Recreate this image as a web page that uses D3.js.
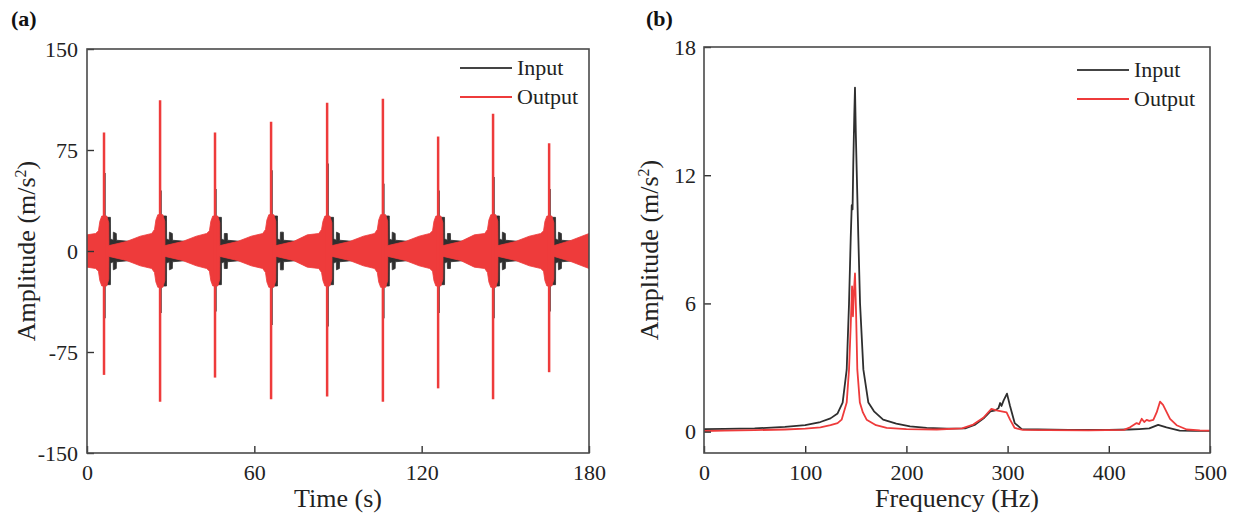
<!DOCTYPE html>
<html>
<head>
  <meta charset="utf-8">
  <title>Input / Output acceleration - time and frequency domain</title>
  <style>
    html, body { margin: 0; background: #fff; }
    svg, svg text { font-family: "Liberation Serif", "Times New Roman", serif; }
    .tick text { font-size: 22px; fill: #222; }
    .axis-title { font-size: 26px; fill: #222; text-anchor: middle; }
    .legend text { font-size: 22px; fill: #222; }
    .panel-tag { font-size: 22px; font-weight: bold; fill: #111; }
  </style>
</head>
<body>
  <svg id="chart" width="1237" height="517"></svg>

  <script src="https://d3js.org/d3.v7.min.js"></script>
  <script>
    // ---- panel (a): time domain ----
    const timeTicks = [0, 60, 120, 180];
    const ampTicksA = [-150, -75, 0, 75, 150];

    // impact spikes (s) and their peak values (m/s^2)
    const spikeTimes = [6.1, 26.2, 45.9, 66.0, 86.1, 106.1, 125.9, 145.6, 165.7];
    const outSpikeHi = [88, 112, 88, 96, 110, 113, 85, 102, 80];
    const outSpikeLo = [-92, -112, -94, -110, -108, -112, -102, -110, -90];
    const inSpikeHi = [58, 45, 46, 60, 65, 50, 45, 55, 46];
    const inSpikeLo = [-50, -46, -45, -55, -56, -50, -46, -50, -45];

    // envelope of the fast oscillation, +/- amplitude
    const outEnvT = [
      0, 3.1, 4.1, 4.6, 5.3, 7.1, 7.8, 7.85, 14.1, 19.1,
      23.2, 24.2, 24.7, 25.4, 27.2, 27.9, 27.95, 34.2, 39.2,
      42.9, 43.9, 44.4, 45.1, 46.9, 47.6, 47.65, 53.9, 58.9,
      63.0, 64.0, 64.5, 65.2, 67.0, 67.7, 67.75, 74.0, 79.0,
      83.1, 84.1, 84.6, 85.3, 87.1, 87.8, 87.85, 94.1, 99.1,
      103.1, 104.1, 104.6, 105.3, 107.1, 107.8, 107.85, 114.1, 119.1,
      122.9, 123.9, 124.4, 125.1, 126.9, 127.6, 127.65, 133.9, 138.9,
      142.6, 143.6, 144.1, 144.8, 146.6, 147.3, 147.35, 153.6, 158.6,
      162.7, 163.7, 164.2, 164.9, 166.7, 167.4, 167.45, 173.7, 180
    ];
    const outEnvA = [
      12, 13, 15, 22, 26, 26, 21, 4, 7, 11,
      13, 16, 23, 27, 27, 22, 4, 7, 11,
      13, 15, 22, 26, 26, 21, 4, 7, 11,
      13, 16, 23, 27, 27, 22, 4, 7, 12,
      13, 16, 22, 26, 26, 21, 4, 7, 11,
      13, 16, 23, 27, 27, 22, 4, 7, 11,
      13, 15, 22, 26, 26, 21, 4, 7, 12,
      13, 16, 23, 27, 27, 22, 4, 7, 11,
      13, 15, 22, 26, 26, 21, 4, 8, 13
    ];
    const inEnvT = [
      0, 6.6, 6.65, 8.4, 8.45, 9.4, 9.45, 10.5, 10.55, 16.1,
      26.7, 26.75, 28.5, 28.55, 29.5, 29.55, 30.6, 30.65, 36.2,
      46.4, 46.45, 48.2, 48.25, 49.2, 49.25, 50.3, 50.35, 55.9,
      66.5, 66.55, 68.3, 68.35, 69.3, 69.35, 70.4, 70.45, 76.0,
      86.6, 86.65, 88.4, 88.45, 89.4, 89.45, 90.5, 90.55, 96.1,
      106.6, 106.65, 108.4, 108.45, 109.4, 109.45, 110.5, 110.55, 116.1,
      126.4, 126.45, 128.2, 128.25, 129.2, 129.25, 130.3, 130.35, 135.9,
      146.1, 146.15, 147.9, 147.95, 148.9, 148.95, 150.0, 150.05, 155.6,
      166.2, 166.25, 168.0, 168.05, 169.0, 169.05, 170.1, 170.15, 175.7, 180
    ];
    const inEnvA = [
      6, 6, 25, 25, 9, 8, 14, 13, 8, 7,
      6, 26, 26, 9, 8, 14, 13, 8, 7,
      6, 25, 25, 9, 8, 13, 13, 8, 7,
      6, 26, 26, 9, 8, 14, 14, 8, 7,
      6, 25, 25, 9, 8, 14, 13, 8, 7,
      6, 26, 26, 9, 8, 14, 13, 8, 7,
      6, 25, 25, 9, 8, 13, 13, 8, 7,
      6, 26, 26, 9, 8, 14, 13, 8, 7,
      6, 25, 25, 9, 8, 14, 13, 8, 7, 6
    ];

    // ---- panel (b): frequency domain ----
    const freqTicks = [0, 100, 200, 300, 400, 500];
    const ampTicksB = [0, 6, 12, 18];

    const inFreq = [0, 20, 50, 80, 100, 115, 125, 132, 137, 141, 143.3, 145, 146, 146.8, 147.5, 148.5,
      149.2, 150, 150.9, 152.5, 154.2, 157.5, 162.4, 168, 177, 190, 203.6, 220, 240, 258, 268, 277, 283,
      288, 291, 292.6, 294, 296, 299.4, 302.4, 307, 314, 330, 360, 400, 420, 430, 440, 448.8, 457,
      470, 485, 500];
    const inAmp = [0.12, 0.13, 0.15, 0.22, 0.3, 0.45, 0.62, 0.85, 1.36, 2.9, 6.0, 9.1, 10.6, 10.4, 12.5, 14.8,
      16.1, 14.0, 12.2, 9.1, 6.0, 2.9, 1.36, 0.95, 0.56, 0.38, 0.25, 0.18, 0.14, 0.15, 0.33, 0.65, 0.95,
      1.0, 1.1, 1.34, 1.2, 1.45, 1.78, 1.2, 0.4, 0.12, 0.1, 0.08, 0.08, 0.1, 0.12, 0.15, 0.32, 0.2,
      0.05, 0.04, 0.04];

    const outFreq = [0, 20, 50, 80, 100, 115, 125, 132, 136, 141, 143.3, 145, 146.3, 147.2, 148.1, 149.2,
      150.3, 151.5, 154, 157, 160.7, 170, 180.5, 200, 230, 255, 266, 276, 284, 289, 294, 299, 302.4,
      307, 315, 340, 380, 415, 421, 427.5, 430, 432.5, 435, 437.4, 440, 444, 447.3, 450.6, 453.6,
      460.5, 467, 477, 490, 500];
    const outAmp = [0.03, 0.05, 0.07, 0.1, 0.14, 0.2, 0.3, 0.4, 0.56, 1.36, 2.9, 5.0, 6.8, 5.4, 6.5, 7.4,
      5.5, 2.9, 1.36, 0.9, 0.56, 0.3, 0.18, 0.12, 0.1, 0.15, 0.33, 0.65, 1.06, 1.0, 0.95, 0.9, 0.56,
      0.17, 0.08, 0.07, 0.06, 0.08, 0.2, 0.4, 0.35, 0.6, 0.45, 0.55, 0.5, 0.55, 0.9, 1.4, 1.25,
      0.6, 0.3, 0.1, 0.06, 0.05];

    const seriesNames = ["Input", "Output"];
    const colInput = "#2f2f2f";
    const colOutput = "#ee3b3b";
    const serif = '"Liberation Serif", "Times New Roman", serif';

    const svg = d3.select("#chart");

    function frame(g, w, h) {
      g.append("rect")
        .attr("width", w).attr("height", h)
        .attr("fill", "none").attr("stroke", "#4a4a4a").attr("stroke-width", 1.6);
    }

    function styleAxis(sel) {
      sel.attr("font-family", serif).attr("font-size", 22);
      sel.select(".domain").remove();
      sel.selectAll(".tick line").attr("stroke", "#333").attr("stroke-width", 1.4);
      sel.selectAll(".tick text").style("font-family", serif).style("font-size", "22px").attr("fill", "#222");
    }

    function legend(g, x0, y0) {
      const lg = g.append("g").attr("class", "legend").attr("transform", `translate(${x0},${y0})`);
      seriesNames.forEach((name, i) => {
        lg.append("line")
          .attr("x1", 0).attr("x2", 52).attr("y1", i * 29).attr("y2", i * 29)
          .attr("stroke", i === 0 ? "#444" : colOutput).attr("stroke-width", 2);
        lg.append("text")
          .attr("x", 57).attr("y", i * 29 + 7).text(name);
      });
    }

    const plainFmt = d => String(d);

    // ================= panel (a) =================
    const A = { left: 87, top: 49, width: 502, height: 404 };
    const ga = svg.append("g").attr("transform", `translate(${A.left},${A.top})`);

    const xA = d3.scaleLinear().domain([0, 180]).range([0, A.width]);
    const yA = d3.scaleLinear().domain([-150, 150]).range([A.height, 0]);

    ga.append("clipPath").attr("id", "clipA")
      .append("rect").attr("width", A.width).attr("height", A.height);
    const plotA = ga.append("g").attr("clip-path", "url(#clipA)");

    const envArea = d3.area()
      .x(d => xA(d.t))
      .y0(d => yA(-d.a))
      .y1(d => yA(d.a));

    const inEnv = inEnvT.map((t, i) => ({ t, a: inEnvA[i] }));
    const outEnv = outEnvT.map((t, i) => ({ t, a: outEnvA[i] }));

    plotA.append("path").datum(inEnv)
      .attr("d", envArea).attr("fill", colInput)
      .attr("stroke", colInput).attr("stroke-width", 0.8);

    plotA.selectAll(".in-spike")
      .data(spikeTimes)
      .enter().append("line")
      .attr("class", "in-spike")
      .attr("x1", d => xA(d + 0.3)).attr("x2", d => xA(d + 0.3))
      .attr("y1", (d, i) => yA(inSpikeHi[i])).attr("y2", (d, i) => yA(inSpikeLo[i]))
      .attr("stroke", colInput).attr("stroke-width", 1.6);

    plotA.append("path").datum(outEnv)
      .attr("d", envArea).attr("fill", colOutput)
      .attr("stroke", colOutput).attr("stroke-width", 0.8);

    plotA.selectAll(".out-spike")
      .data(spikeTimes)
      .enter().append("line")
      .attr("class", "out-spike")
      .attr("x1", d => xA(d)).attr("x2", d => xA(d))
      .attr("y1", (d, i) => yA(outSpikeHi[i])).attr("y2", (d, i) => yA(outSpikeLo[i]))
      .attr("stroke", colOutput).attr("stroke-width", 2.5);

    ga.append("g")
      .attr("transform", `translate(0,${A.height})`)
      .call(d3.axisBottom(xA).tickValues(timeTicks).tickFormat(plainFmt).tickSize(-7).tickPadding(11))
      .call(styleAxis);
    ga.append("g")
      .call(d3.axisLeft(yA).tickValues(ampTicksA).tickFormat(plainFmt).tickSize(-7).tickPadding(9))
      .call(styleAxis);
    frame(ga, A.width, A.height);
    legend(ga, 373, 19);

    ga.append("text").attr("class", "axis-title")
      .attr("x", A.width / 2).attr("y", A.height + 54)
      .text("Time (s)");
    ga.append("text").attr("class", "axis-title")
      .attr("transform", `translate(${-52},${A.height / 2}) rotate(-90)`)
      .html('Amplitude (m/s<tspan dy="-9" font-size="16">2</tspan><tspan dy="9">)</tspan>');

    svg.append("text").attr("class", "panel-tag").attr("x", 11).attr("y", 26).text("(a)");

    // ================= panel (b) =================
    const B = { left: 704, top: 47, width: 506, height: 406 };
    const gb = svg.append("g").attr("transform", `translate(${B.left},${B.top})`);

    const xB = d3.scaleLinear().domain([0, 500]).range([0, B.width]);
    const yB = d3.scaleLinear().domain([-1, 18]).range([B.height, 0]);

    const lineB = (fs, as) => d3.line()
      .x((d, i) => xB(fs[i]))
      .y((d, i) => yB(as[i]))(fs);

    gb.append("path")
      .attr("d", lineB(inFreq, inAmp))
      .attr("fill", "none").attr("stroke", colInput).attr("stroke-width", 1.8)
      .attr("stroke-linejoin", "round");
    gb.append("path")
      .attr("d", lineB(outFreq, outAmp))
      .attr("fill", "none").attr("stroke", colOutput).attr("stroke-width", 1.8)
      .attr("stroke-linejoin", "round");

    gb.append("g")
      .attr("transform", `translate(0,${B.height})`)
      .call(d3.axisBottom(xB).tickValues(freqTicks).tickFormat(plainFmt).tickSize(-7).tickPadding(11))
      .call(styleAxis);
    gb.append("g")
      .call(d3.axisLeft(yB).tickValues(ampTicksB).tickFormat(plainFmt).tickSize(-7).tickPadding(8))
      .call(styleAxis);
    frame(gb, B.width, B.height);
    legend(gb, 373, 23);

    gb.append("text").attr("class", "axis-title")
      .attr("x", B.width / 2).attr("y", B.height + 54)
      .text("Frequency (Hz)");
    gb.append("text").attr("class", "axis-title")
      .attr("transform", `translate(${-46},${B.height / 2}) rotate(-90)`)
      .html('Amplitude (m/s<tspan dy="-9" font-size="16">2</tspan><tspan dy="9">)</tspan>');

    svg.append("text").attr("class", "panel-tag").attr("x", 646).attr("y", 26).text("(b)");
  </script>
</body>
</html>
